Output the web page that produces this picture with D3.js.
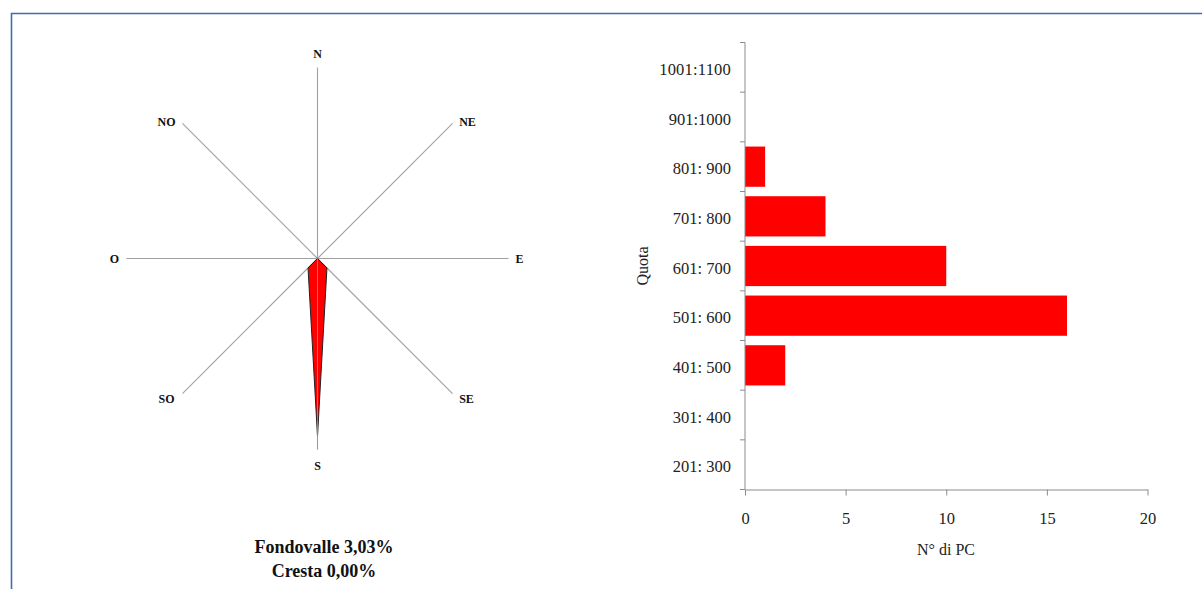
<!DOCTYPE html>
<html><head><meta charset="utf-8">
<script src="https://cdn.jsdelivr.net/npm/d3@7"></script>
<style>html,body{margin:0;padding:0;background:#fff;}svg{display:block;}</style>
</head><body>
<svg id="c" width="1202" height="589"></svg>
<script>
// Rose data (8 directions)
const directions = ["N","NE","E","SE","S","SO","O","NO"];
const roseValues = [0, 0, 0, 7, 93, 7, 0, 0];
const roseMax = 100;
// Bar chart data
const quotaCategories = ["1001:1100","901:1000","801: 900","701: 800","601: 700","501: 600","401: 500","301: 400","201: 300"];
const pcCounts = [0, 0, 1, 4, 10, 16, 2, 0, 0];
const xTicks = [0, 5, 10, 15, 20];
const footerLines = ["Fondovalle 3,03%", "Cresta 0,00%"];

const svg = d3.select("#c");
const serif = "'Liberation Serif','Times New Roman',serif";

// frame
svg.append("path").attr("d","M11.5,600 L11.5,13.5 L1210,13.5")
  .attr("fill","none").attr("stroke","#3f6db0").attr("stroke-width",1.6);

// ---- Rose ----
const cx = 317.5, cy = 258.5, R = 191;
const rScale = d3.scaleLinear().domain([0, roseMax]).range([0, R]);
const ang = i => i * Math.PI / 4; // clockwise from north
const rose = svg.append("g").attr("transform", `translate(${cx},${cy})`);
directions.forEach((d, i) => {
  const a = ang(i);
  rose.append("line").attr("x1",0).attr("y1",0)
    .attr("x2", R*Math.sin(a)).attr("y2", -R*Math.cos(a))
    .attr("stroke","#a0a0a0").attr("stroke-width",1.1);
});
const radial = d3.lineRadial().angle((d,i)=>ang(i)).radius(d=>rScale(d)).curve(d3.curveLinearClosed);
rose.append("path").attr("d", radial(roseValues))
  .attr("fill","#ff0000").attr("stroke","#222").attr("stroke-width",1).attr("stroke-linejoin","miter");
rose.append("line").attr("x1",0).attr("y1",0).attr("x2",0).attr("y2",R)
  .attr("stroke","#9a9a9a").attr("stroke-width",1).attr("opacity",0.8);
// label placement (x, y factors along each direction)
const labDX = [0, 150, 202, 149, 0, -151, -203, -151];
const labDY = [-205, -137, 0, 140, 207, 140, 0, -137];
directions.forEach((d, i) => {
  rose.append("text").text(d)
    .attr("x", labDX[i]).attr("y", labDY[i])
    .attr("text-anchor","middle").attr("dy","0.36em")
    .attr("font-family", serif).attr("font-weight","bold").attr("font-size",12).attr("fill","#111");
});
footerLines.forEach((t, i) => {
  svg.append("text").text(t).attr("x", 324).attr("y", 553 + i*23.5)
    .attr("text-anchor","middle").attr("font-family", serif).attr("font-weight","bold")
    .attr("font-size",18).attr("fill","#111");
});

// ---- Bar chart ----
const x = d3.scaleLinear().domain([0, 20]).range([745, 1147.5]);
const y = d3.scaleBand().domain(quotaCategories).range([42.5, 489.5]).paddingInner(0.19).paddingOuter(0.095);
const axisColor = "#8c8c8c";
const bars = svg.append("g");
bars.selectAll("rect").data(quotaCategories.map((c,i)=>({c, v:pcCounts[i]})).filter(d=>d.v>0))
  .join("rect")
  .attr("x", x(0)).attr("y", d=>y(d.c)).attr("width", d=>x(d.v)-x(0)).attr("height", y.bandwidth())
  .attr("fill","#ff0000");

// y axis
const yg = svg.append("g");
yg.append("line").attr("x1",745).attr("x2",745).attr("y1",42.5).attr("y2",489.5).attr("stroke",axisColor);
const step = (489.5-42.5)/quotaCategories.length;
d3.range(quotaCategories.length+1).forEach(i=>{
  yg.append("line").attr("x1",740).attr("x2",745).attr("y1",42.5+i*step).attr("y2",42.5+i*step).attr("stroke",axisColor);
});
quotaCategories.forEach(c=>{
  yg.append("text").text(c).attr("x",731).attr("y", y(c)+y.bandwidth()/2+2).attr("dy","0.35em")
    .attr("text-anchor","end").attr("font-family",serif).attr("font-size",16.5).attr("fill","#222")
    .attr("letter-spacing", c.length > 8 ? "0.2px" : "0");
});
// x axis
const xg = svg.append("g").attr("transform","translate(0,489.5)");
xg.call(d3.axisBottom(x).tickValues(xTicks).tickSize(6).tickSizeOuter(0).tickFormat(d3.format("d")));
xg.select(".domain").attr("stroke",axisColor);
xg.selectAll(".tick line").attr("stroke",axisColor);
xg.selectAll(".tick text").attr("font-family",serif).attr("font-size",16.5).attr("fill","#222").attr("dy","0").attr("y",34);
svg.append("text").text("N° di PC").attr("x",946).attr("y",555).attr("text-anchor","middle")
  .attr("font-family",serif).attr("font-size",16).attr("fill","#222");
svg.append("text").text("Quota").attr("transform","translate(648,266) rotate(-90)").attr("text-anchor","middle")
  .attr("font-family",serif).attr("font-size",16).attr("fill","#222");
</script>
</body></html>
